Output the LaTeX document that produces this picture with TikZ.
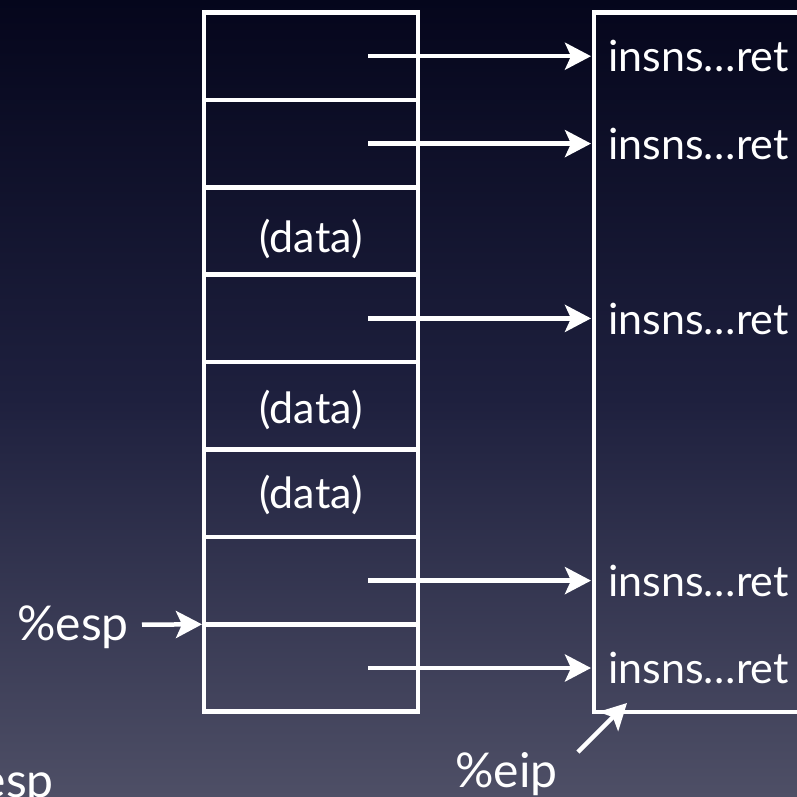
\documentclass[tikz,border=0pt]{standalone}
\usepackage{fontspec}
\setmainfont{Lato}
\usetikzlibrary{arrows.meta}
\definecolor{bgtop}{RGB}{5,6,28}
\definecolor{bgmid}{RGB}{30,32,62}
\definecolor{bgbot}{RGB}{78,79,102}
\begin{document}
\begin{tikzpicture}[x=1pt,y=-1pt,
  cell/.style={draw=white, line width=4.5pt, minimum width=214pt, minimum height=87.4pt,
    inner sep=0pt, outer sep=0pt, anchor=north west},
  codebox/.style={draw=white, line width=4.5pt, minimum width=260pt, minimum height=699.5pt,
    inner sep=0pt, outer sep=0pt, anchor=north west},
  boxtxt/.style={text=white, font=\fontsize{43}{50}\selectfont, inner sep=0pt},
  lbltxt/.style={text=white, font=\fontsize{48}{56}\selectfont, inner sep=0pt},
  ptr/.style={white, line width=4.5pt, -{Stealth[length=26pt,width=27pt,inset=6pt]}}
]
\useasboundingbox (0,0) rectangle (797,797);
\clip (0,0) rectangle (797,797);
\shade[top color=bgtop, bottom color=bgbot, middle color=bgmid] (0,0) rectangle (797,797);

% stack cells
\foreach \i in {1,...,8}{
  \node[cell] (r\i) at (204,{12.5+87.4*(\i-1)}) {};
}
% code box
\node[codebox] (code) at (594,12.5) {};

% data labels
\node[boxtxt] (d3) at ([yshift=-8pt]r3.center) {(data)};
\node[boxtxt] (d5) at ([yshift=-4pt]r5.center) {(data)};
\node[boxtxt] (d6) at ([yshift=-2pt]r6.center) {(data)};

% pointer start points
\foreach \i in {1,2,4,7,8}{
  \coordinate (s\i) at ([xshift=57pt]r\i.center);
  \draw[ptr, shorten >=3pt] (s\i) -- (s\i -| code.west);
}

% code labels
\node[boxtxt, anchor=base west] (c1) at (608,72) {insns…ret};
\node[boxtxt, anchor=base west] (c2) at (608,159) {insns…ret};
\node[boxtxt, anchor=base west] (c4) at (608,334) {insns…ret};
\node[boxtxt, anchor=base west] (c7) at (608,596) {insns…ret};
\node[boxtxt, anchor=base west] (c8) at (608,683) {insns…ret};

% %esp
\node[lbltxt, anchor=base east] (esp) at (129,640) {\%esp};
\coordinate (espa) at (142,624.7);
\draw[ptr, shorten >=2pt] (espa) -- (r8.north west);

% %eip
\node[lbltxt, anchor=base west] (eip) at (455,787) {\%eip};
\coordinate (eipa) at (578,752);
\coordinate (eipt) at (627,703);
\draw[ptr] (eipa) -- (eipt);

% cut-off label at bottom left (as in the reference)
\node[lbltxt, anchor=base east] (esp2) at (54,797) {\%esp};
\end{tikzpicture}
\end{document}
